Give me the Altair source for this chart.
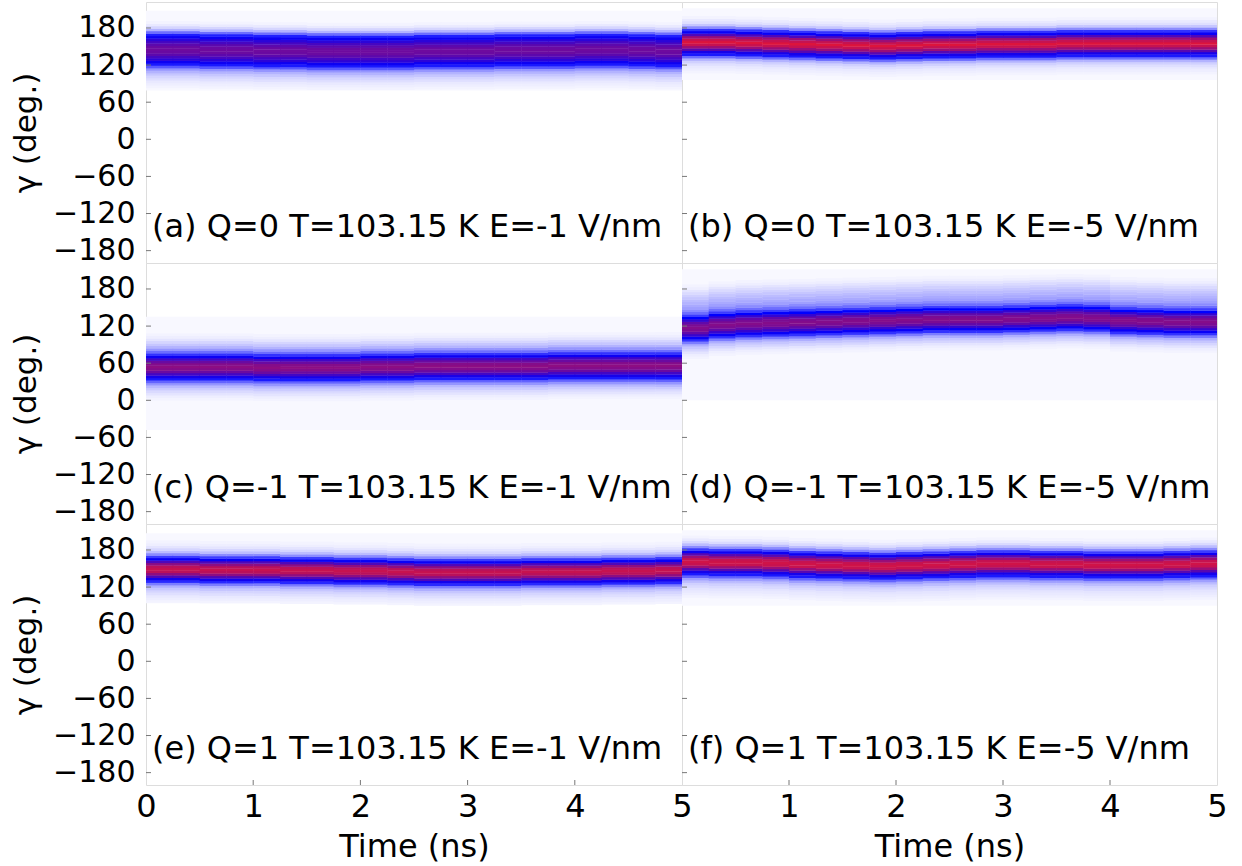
import altair as alt
import pandas as pd

# Time bins (ns) of each panel and the angle offsets (deg) of the profile rows
BIN_WIDTH = 0.25
OFFSETS = list(range(-60, 69, 4))

# Centre of the gamma distribution (deg) in each 0.25 ns bin
center_a = [145, 145, 144, 144, 143, 143, 142, 142, 142, 142, 143, 143, 143, 144, 144, 144, 145, 145, 144, 143]
center_b = [157, 157, 156, 155, 154, 153, 152, 151, 152, 153, 153, 154, 154, 154, 155, 155, 155, 155, 155, 155]
center_c = [54, 54, 54, 54, 53, 53, 53, 53, 54, 54, 55, 55, 55, 55, 55, 56, 56, 56, 56, 56]
center_d = [117, 122, 124, 125, 126, 127, 128, 129, 130, 131, 131, 131, 132, 133, 134, 133, 129, 128, 127, 127]
center_e = [149, 149, 148, 148, 148, 147, 147, 146, 146, 145, 144, 144, 144, 144, 145, 145, 145, 146, 146, 147]
center_f = [161, 160, 160, 159, 157, 156, 155, 154, 155, 156, 157, 158, 158, 157, 157, 156, 156, 156, 157, 158]

# Relative population (0..1) at each offset from the centre, bottom to top
profile_a = [0.01, 0.02, 0.03, 0.05, 0.07, 0.10, 0.14, 0.20, 0.32, 0.45, 0.53, 0.60, 0.66, 0.71, 0.74, 0.75,
             0.74, 0.71, 0.66, 0.60, 0.53, 0.44, 0.28, 0.14, 0.07, 0.03, 0.01, 0, 0, 0, 0, 0, 0]
profile_b = [0, 0, 0, 0.01, 0.02, 0.03, 0.05, 0.08, 0.14, 0.28, 0.45, 0.55, 0.70, 0.85, 0.95, 1.00,
             0.95, 0.85, 0.68, 0.52, 0.40, 0.22, 0.10, 0.05, 0.03, 0.01, 0, 0, 0, 0, 0, 0, 0]
profile_c = [0, 0, 0.01, 0.02, 0.04, 0.06, 0.09, 0.13, 0.20, 0.30, 0.45, 0.55, 0.65, 0.74, 0.80, 0.82,
             0.80, 0.74, 0.65, 0.53, 0.40, 0.28, 0.20, 0.14, 0.10, 0.07, 0.04, 0.02, 0.01, 0, 0, 0, 0]
profile_d = [0, 0, 0, 0.01, 0.02, 0.04, 0.07, 0.10, 0.15, 0.25, 0.40, 0.52, 0.62, 0.72, 0.78, 0.80,
             0.78, 0.72, 0.62, 0.50, 0.38, 0.28, 0.22, 0.18, 0.16, 0.14, 0.12, 0.10, 0.08, 0.06, 0.04, 0.02, 0.01]
profile_e = [0, 0, 0.01, 0.02, 0.03, 0.05, 0.07, 0.10, 0.15, 0.25, 0.42, 0.54, 0.68, 0.82, 0.92, 0.95,
             0.92, 0.82, 0.68, 0.52, 0.38, 0.22, 0.12, 0.07, 0.04, 0.02, 0.01, 0, 0, 0, 0, 0, 0]
profile_f = [0, 0.01, 0.02, 0.03, 0.04, 0.06, 0.08, 0.12, 0.18, 0.30, 0.45, 0.55, 0.70, 0.85, 0.95, 0.97,
             0.95, 0.85, 0.70, 0.53, 0.38, 0.22, 0.12, 0.06, 0.03, 0.01, 0, 0, 0, 0, 0, 0, 0]

# Sampled angle range (deg) of each run
extent_a = [79, 208]
extent_b = [96, 212]
extent_c = [-48, 135]
extent_d = [0, 212]
extent_e = [94, 207]
extent_f = [90, 212]

labels = [
    "(a) Q=0 T=103.15 K E=-1 V/nm",
    "(b) Q=0 T=103.15 K E=-5 V/nm",
    "(c) Q=-1 T=103.15 K E=-1 V/nm",
    "(d) Q=-1 T=103.15 K E=-5 V/nm",
    "(e) Q=1 T=103.15 K E=-1 V/nm",
    "(f) Q=1 T=103.15 K E=-5 V/nm",
]
centers = [center_a, center_b, center_c, center_d, center_e, center_f]
profiles = [profile_a, profile_b, profile_c, profile_d, profile_e, profile_f]
extents = [extent_a, extent_b, extent_c, extent_d, extent_e, extent_f]

Y_TICKS = [-180, -120, -60, 0, 60, 120, 180]
X_TICKS_LEFT = [0, 1, 2, 3, 4, 5]
X_TICKS_RIGHT = [1, 2, 3, 4, 5]

W, H = 535, 261
FONT = "DejaVu Sans"
LAVENDER = "#f8f8ff"
TICK_COLOR = "#777777"

x_scale = alt.Scale(domain=[0, 5], nice=False, zero=False)
y_scale = alt.Scale(domain=[-200, 222], nice=False, zero=False)
c_scale = alt.Scale(domain=[0, 0.5, 1.0], range=[LAVENDER, "#0000ff", "#dc143c"], interpolate="rgb")


def cells_frame(center, profile):
    rows = []
    for i, c in enumerate(center):
        t0 = i * BIN_WIDTH
        for off, lev in zip(OFFSETS, profile):
            if lev <= 0:
                continue
            rows.append({"t0": t0, "t1": t0 + BIN_WIDTH + 0.004,
                         "g0": c + off - 2.3, "g1": c + off + 2.3, "level": lev})
    return pd.DataFrame(rows)


def panel(k, left, bottom):
    if left:
        y_axis = alt.Axis(values=Y_TICKS, title="γ (deg.)", ticks=False, domain=False, grid=False,
                          labelFontSize=30, titleFontSize=31, titleFontWeight="normal",
                          labelPadding=11, titlePadding=10, labelColor="black", titleColor="black",
                          labelFont=FONT, titleFont=FONT)
    else:
        y_axis = None
    if bottom:
        x_axis = alt.Axis(values=X_TICKS_LEFT if left else X_TICKS_RIGHT, title="Time (ns)",
                          ticks=False, domain=False, grid=False, labelFontSize=32, titleFontSize=32,
                          titleFontWeight="normal", labelPadding=6, titlePadding=9,
                          labelColor="black", titleColor="black", labelFont=FONT, titleFont=FONT,
                          labelFlush=False)
    else:
        x_axis = None

    lo, hi = extents[k]
    bg = alt.Chart(pd.DataFrame({"t0": [0], "t1": [5], "lo": [lo], "hi": [hi]})).mark_rect(
        color=LAVENDER, clip=True
    ).encode(
        x=alt.X("t0:Q", scale=x_scale, axis=x_axis),
        x2="t1:Q",
        y=alt.Y("lo:Q", scale=y_scale, axis=y_axis),
        y2="hi:Q",
    )
    cells = alt.Chart(cells_frame(centers[k], profiles[k])).mark_rect(clip=True).encode(
        x=alt.X("t0:Q", scale=x_scale, axis=x_axis),
        x2="t1:Q",
        y=alt.Y("g0:Q", scale=y_scale, axis=y_axis),
        y2="g1:Q",
        color=alt.Color("level:Q", scale=c_scale, legend=None),
    )
    yticks = alt.Chart(pd.DataFrame({"v": Y_TICKS})).mark_rule(color=TICK_COLOR, strokeWidth=1).encode(
        x=alt.value(0), x2=alt.value(5),
        y=alt.Y("v:Q", scale=y_scale, axis=y_axis),
    )
    text = alt.Chart(pd.DataFrame({"label": [labels[k]]})).mark_text(
        align="left", baseline="alphabetic", fontSize=32, font=FONT, color="black"
    ).encode(x=alt.value(6), y=alt.value(235), text="label:N")
    layers = [bg, cells, yticks]
    if bottom:
        xticks = alt.Chart(pd.DataFrame({"v": [1, 2, 3, 4]})).mark_rule(
            color=TICK_COLOR, strokeWidth=1
        ).encode(
            x=alt.X("v:Q", scale=x_scale, axis=x_axis),
            y=alt.value(H), y2=alt.value(H - 5),
        )
        layers.append(xticks)
    layers.append(text)
    return alt.layer(*layers).properties(width=W + (1 if left else 0), height=H)


panels = [panel(k, k % 2 == 0, k >= 4) for k in range(6)]

chart = alt.concat(*panels, columns=2, spacing=0, bounds="flush").properties(
    padding={"left": 10, "top": 1, "right": 5, "bottom": 2}
).configure_view(
    stroke="#555555", strokeWidth=1
).configure(
    font=FONT, background="white"
)

chart.save("out.html", embed_options={"renderer": "svg", "actions": False})
